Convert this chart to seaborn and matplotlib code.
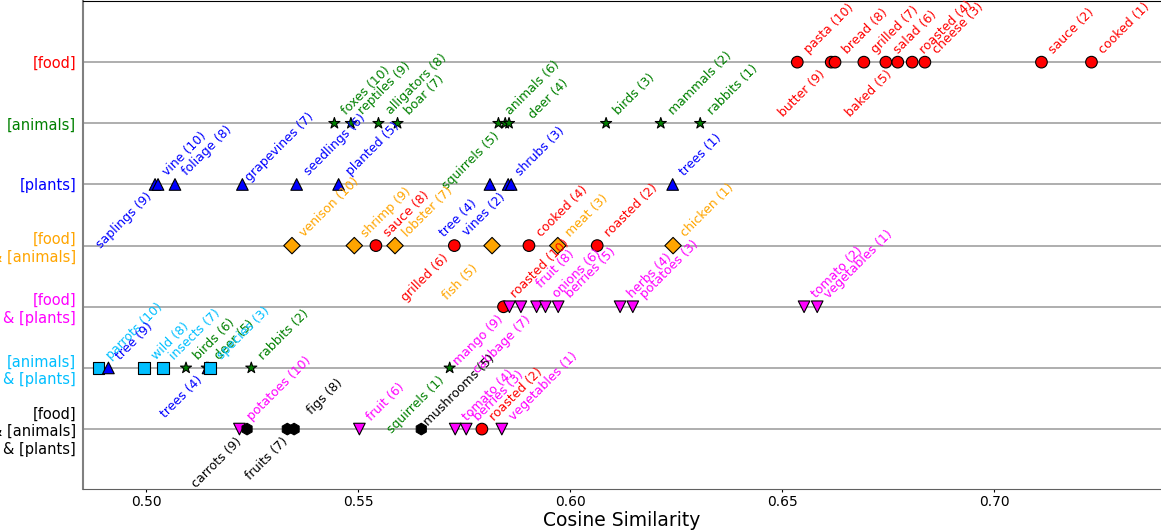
import pandas as pd
import seaborn as sns
import matplotlib.pyplot as plt

# query rows (top to bottom)
row_names = ["[food]", "[animals]", "[plants]", "[food]\n& [animals]", "[food]\n& [plants]",
             "[animals]\n& [plants]", "[food]\n& [animals]\n& [plants]"]
row_cats = ["food", "animals", "plants", "food_animals", "food_plants", "animals_plants", "all"]

# nearest words per row, rank 10 -> 1
food_words = ["pasta", "butter", "bread", "grilled", "salad", "baked", "roasted", "cheese", "sauce", "cooked"]
food_sims = [0.6536, 0.6616, 0.6625, 0.6693, 0.6745, 0.6773, 0.6807, 0.6837, 0.7112, 0.7230]
food_cats = ["food"] * 10

animals_words = ["foxes", "reptiles", "alligators", "boar", "animals", "squirrels", "deer", "birds", "mammals", "rabbits"]
animals_sims = [0.5444, 0.5483, 0.5548, 0.5593, 0.5831, 0.5847, 0.5856, 0.6085, 0.6214, 0.6307]
animals_cats = ["animals"] * 10

plants_words = ["vine", "saplings", "foliage", "grapevines", "seedlings", "planted", "tree", "shrubs", "vines", "trees"]
plants_sims = [0.5021, 0.5028, 0.5068, 0.5227, 0.5355, 0.5454, 0.5811, 0.5854, 0.5861, 0.6242]
plants_cats = ["plants"] * 10

fa_words = ["venison", "shrimp", "sauce", "lobster", "grilled", "fish", "cooked", "meat", "roasted", "chicken"]
fa_sims = [0.5344, 0.5491, 0.5542, 0.5587, 0.5727, 0.5816, 0.5903, 0.5971, 0.6064, 0.6243]
fa_cats = ["food_animals", "food_animals", "food", "food_animals", "food", "food_animals", "food",
           "food_animals", "food", "food_animals"]

fp_words = ["roasted", "mango", "fruit", "cabbage", "onions", "berries", "herbs", "potatoes", "tomato", "vegetables"]
fp_sims = [0.5843, 0.5857, 0.5884, 0.5921, 0.5942, 0.5972, 0.6118, 0.6148, 0.6552, 0.6583]
fp_cats = ["food"] + ["food_plants"] * 9

ap_words = ["parrots", "tree", "wild", "insects", "birds", "deer", "trees", "species", "rabbits", "squirrels"]
ap_sims = [0.4888, 0.4911, 0.4995, 0.5039, 0.5094, 0.5143, 0.5146, 0.5151, 0.5248, 0.5716]
ap_cats = ["animals_plants", "plants", "animals_plants", "animals_plants", "animals", "animals", "plants",
           "animals_plants", "animals", "animals"]

all_words = ["potatoes", "carrots", "figs", "fruits", "fruit", "mushrooms", "tomato", "berries", "roasted", "vegetables"]
all_sims = [0.5220, 0.5238, 0.5333, 0.5349, 0.5503, 0.5649, 0.5729, 0.5755, 0.5792, 0.5839]
all_cats = ["food_plants", "all", "all", "all", "food_plants", "all", "food_plants", "food_plants", "food", "food_plants"]

ranks = list(range(10, 0, -1))

# labels that sit below the line (row index, word)
below = {(0, "butter"), (0, "baked"), (1, "squirrels"), (2, "saplings"), (2, "tree"), (2, "vines"),
         (3, "grilled"), (3, "fish"), (4, "mango"), (4, "cabbage"), (5, "trees"), (5, "squirrels"),
         (6, "carrots"), (6, "fruits")}
# a few labels were pushed aside in the original (pixels)
nudge = {(1, "deer"): (12, -4), (3, "fish"): (-8, -10), (2, "tree"): (-7, -7), (4, "fruit"): (8, 10),
         (6, "figs"): (12, 6), (2, "grapevines"): (-5, -6), (6, "mushrooms"): (-5, -5)}

palette = {"food": "red", "animals": "green", "plants": "blue", "food_animals": "orange",
           "food_plants": "magenta", "animals_plants": "deepskyblue", "all": "black"}
markers = {"food": "o", "animals": "*", "plants": "^", "food_animals": "D",
           "food_plants": "v", "animals_plants": "s", "all": "h"}

rows = [(food_words, food_sims, food_cats), (animals_words, animals_sims, animals_cats),
        (plants_words, plants_sims, plants_cats), (fa_words, fa_sims, fa_cats),
        (fp_words, fp_sims, fp_cats), (ap_words, ap_sims, ap_cats), (all_words, all_sims, all_cats)]

recs = []
for i, (w, s, c) in enumerate(rows):
    for word, sim, cat, rk in zip(w, s, c, ranks):
        recs.append({"row": i, "word": word, "sim": sim, "cat": cat, "rank": rk})
df = pd.DataFrame(recs)

fig = plt.figure(figsize=(11.61, 5.31), dpi=100)
ax = fig.add_axes([83 / 1161, 1 - 489 / 531, 1 - 83 / 1161, (489 - 1) / 531])

for i in range(len(row_names)):
    ax.axhline(i, color="#a8a8a8", lw=1.3, zorder=0)

sns.scatterplot(data=df, x="sim", y="row", hue="cat", style="cat", palette=palette, markers=markers,
                s=70, edgecolor="black", linewidth=0.8, legend=False, ax=ax, zorder=3)

for _, r in df.iterrows():
    key = (r["row"], r["word"])
    txt = f"{r['word']} ({r['rank']})"
    nx, ny = nudge.get(key, (0, 0))
    if key in below:
        ax.annotate(txt, (r["sim"], r["row"]), xytext=(-3 + nx, -6 + ny), textcoords="offset pixels",
                    rotation=45, ha="right", va="top", fontsize=9, color=palette[r["cat"]])
    else:
        ax.annotate(txt, (r["sim"], r["row"]), xytext=(5 + nx, 6 + ny), textcoords="offset pixels",
                    rotation=45, ha="left", va="bottom", fontsize=9, color=palette[r["cat"]])

ax.set_xlim(0.4851, 0.7394)
ax.set_ylim(6.98, -1.0)
ax.set_xticks([0.50, 0.55, 0.60, 0.65, 0.70])
ax.set_xticklabels(["0.50", "0.55", "0.60", "0.65", "0.70"])
ax.set_yticks(range(len(row_names)))
ax.set_yticklabels(row_names)
for lab, cat in zip(ax.get_yticklabels(), row_cats):
    lab.set_color(palette[cat])
ax.tick_params(axis="y", length=0, pad=5, labelsize=10.5)
ax.tick_params(axis="x", length=2, pad=2, labelsize=10)
ax.set_xlabel("Cosine Similarity", fontsize=13.5, labelpad=2)
ax.set_ylabel("")

ax.spines["right"].set_visible(False)
ax.spines["top"].set_color("black")
ax.spines["left"].set_color("#808080")
ax.spines["left"].set_linewidth(1.5)
ax.spines["bottom"].set_color("#606060")

fig.savefig("out.png", dpi=100)
